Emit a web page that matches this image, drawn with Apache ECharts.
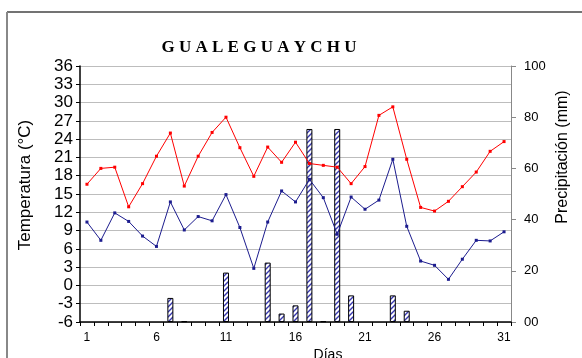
<!DOCTYPE html>
<html>
<head>
<meta charset="utf-8">
<script src="https://cdn.jsdelivr.net/npm/echarts@6/dist/echarts.min.js"></script>
<style>html,body{margin:0;padding:0;background:#fff}#c{width:582px;height:358px}</style>
</head>
<body>
<div id="c"></div>
<script>
var days = [];
for (var i = 1; i <= 31; i++) days.push(String(i));
var tempMax = [16.6, 19.2, 19.4, 12.9, 16.7, 21.2, 25.0, 16.3, 21.2, 25.1, 27.6, 22.6, 17.9, 22.7, 20.2, 23.5, 20.0, 19.7, 19.4, 16.7, 19.5, 27.9, 29.3, 20.7, 12.8, 12.2, 13.8, 16.2, 18.6, 22.0, 23.6];
var tempMin = [10.4, 7.4, 11.9, 10.5, 8.1, 6.4, 13.7, 9.1, 11.3, 10.6, 14.9, 9.5, 2.8, 10.4, 15.5, 13.7, 17.4, 14.4, 8.4, 14.5, 12.5, 14.0, 20.7, 9.7, 4.0, 3.3, 1.0, 4.3, 7.4, 7.3, 8.8];
var precip = [0, 0, 0, 0, 0, 0, 9.4, 0.3, 0, 0, 19.3, 0, 0, 23.2, 3.3, 6.5, 75.4, 0.3, 75.4, 10.4, 0, 0, 10.4, 4.4, 0, 0, 0, 0, 0, 0, 0];
var title = 'G U A L E G U A Y C H U';

var pc = document.createElement('canvas');
pc.width = 5; pc.height = 5;
var g = pc.getContext('2d');
g.fillStyle = '#ffffff'; g.fillRect(0, 0, 5, 5);
g.strokeStyle = '#3838b0'; g.lineWidth = 1.4;
g.beginPath();
g.moveTo(-1, 6); g.lineTo(6, -1);
g.moveTo(-1, 1); g.lineTo(1, -1);
g.moveTo(4, 6); g.lineTo(6, 4);
g.stroke();

var chart = echarts.init(document.getElementById('c'), null, {renderer: 'canvas'});
var font = 'Liberation Sans, Arial, sans-serif';
chart.setOption({
  animation: false,
  backgroundColor: '#fff',
  grid: {left: 80, right: 71, top: 66, bottom: 36, containLabel: false},
  graphic: [
    {type: 'line', shape: {x1: 7, y1: 12, x2: 582, y2: 12}, style: {stroke: '#444', lineWidth: 1.5}},
    {type: 'line', shape: {x1: 7, y1: 12, x2: 7, y2: 358}, style: {stroke: '#888', lineWidth: 2}},
    {type: 'text', x: 259, y: 48, style: {text: title, font: 'bold 17px "Liberation Serif", "Times New Roman", serif', fill: '#000', textAlign: 'center', textVerticalAlign: 'middle'}},
    {type: 'text', x: 17, y: 185, rotation: Math.PI / 2, style: {text: 'Temperatura (°C)', font: '17px ' + font, fill: '#000', textAlign: 'center', textVerticalAlign: 'top'}},
    {type: 'text', x: 555, y: 157, rotation: Math.PI / 2, style: {text: 'Precipitación (mm)', font: '16px ' + font, fill: '#000', textAlign: 'center', textVerticalAlign: 'top'}},
    {type: 'text', x: 328, y: 348, style: {text: 'Días', font: '14px ' + font, fill: '#000', textAlign: 'center', textVerticalAlign: 'top'}}
  ],
  xAxis: {
    type: 'category', data: days, boundaryGap: true,
    axisLine: {onZero: false, lineStyle: {color: '#000', width: 1.5}},
    axisTick: {show: true, interval: 0, length: 4, lineStyle: {color: '#000', width: 1}},
    axisLabel: {interval: 4, color: '#000', fontSize: 12, fontFamily: font, margin: 10},
    splitLine: {show: false}
  },
  yAxis: [
    {
      type: 'value', min: -6, max: 36, interval: 3, position: 'left',
      axisLine: {show: true, lineStyle: {color: '#000', width: 1.5}},
      axisTick: {show: true, length: 4, lineStyle: {color: '#000'}},
      axisLabel: {color: '#000', fontSize: 17, fontFamily: font, margin: 7},
      splitLine: {show: true, lineStyle: {color: '#bdbdbd', width: 1}}
    },
    {
      type: 'value', min: 0, max: 100, interval: 20, position: 'right',
      axisLine: {show: true, lineStyle: {color: '#888', width: 1}},
      axisTick: {show: true, length: 5, lineStyle: {color: '#888'}},
      axisLabel: {color: '#000', fontSize: 13, fontFamily: font, margin: 13,
        formatter: function (v) { return v === 0 ? '00' : String(v); }},
      splitLine: {show: false}
    }
  ],
  series: [
    {
      type: 'bar', yAxisIndex: 1, barWidth: 6,
      data: precip.map(function (v) { return v === 0 ? null : v; }),
      itemStyle: {color: {image: pc, repeat: 'repeat'}, borderColor: '#000', borderWidth: 1},
      z: 1
    },
    {
      type: 'line', yAxisIndex: 0, data: tempMax, symbol: 'rect', symbolSize: 3,
      lineStyle: {color: '#ff0000', width: 1}, itemStyle: {color: '#ff0000'}, z: 3
    },
    {
      type: 'line', yAxisIndex: 0, data: tempMin, symbol: 'rect', symbolSize: 3,
      lineStyle: {color: '#1c1c8e', width: 1}, itemStyle: {color: '#1c1c8e'}, z: 3
    }
  ]
});
</script>
</body>
</html>
